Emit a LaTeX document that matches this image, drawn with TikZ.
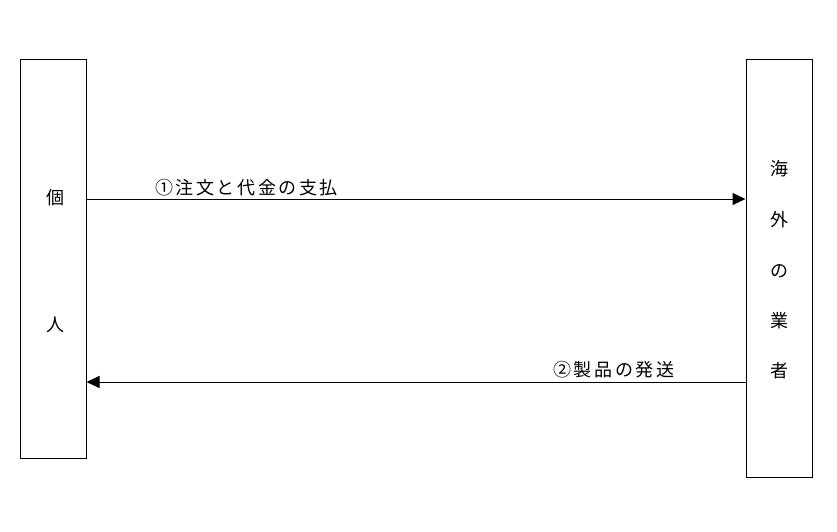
\documentclass[tikz,border=0pt]{standalone}
\usepackage{fontspec}
\newfontfamily\cjk{Noto Sans CJK JP}
\usetikzlibrary{arrows.meta}
\newcommand\ks{\kern2.6pt}
\begin{document}
\begin{tikzpicture}[x=1pt,y=-1pt,
  box/.style={draw,line width=1pt,inner sep=0pt},
  lbl/.style={inner sep=0pt,font=\cjk\fontsize{18}{20}\selectfont},
  arr/.style={line width=1pt,-{Triangle[length=13pt,width=12pt]}}]
\useasboundingbox (0,0) rectangle (837,532);
\node[box,minimum width=66pt,minimum height=398pt] (L) at (53,259) {};
\node[box,minimum width=66pt,minimum height=417pt] (R) at (779,268.5) {};
\node[lbl] (l1) at (55,198) {個};
\node[lbl] (l2) at (55,325) {人};
\node[lbl] (r1) at (779,169) {海};
\node[lbl] (r2) at (779,220) {外};
\node[lbl] (r3) at (779,271) {の};
\node[lbl] (r4) at (779,321) {業};
\node[lbl] (r5) at (779,371) {者};
\coordinate (y1) at (0,199);
\coordinate (y2) at (0,382);
\draw[arr] (L.east |- y1) -- (R.west |- y1);
\draw[arr] (R.west |- y2) -- (L.east |- y2);
\node[lbl,anchor=west] (t1) at (155,188) {①\ks 注\ks 文\ks と\ks 代\ks 金\ks の\ks 支\ks 払};
\node[lbl,anchor=west] (t2) at (553,370) {②\ks 製\ks 品\ks の\ks 発\ks 送};
\end{tikzpicture}
\end{document}
